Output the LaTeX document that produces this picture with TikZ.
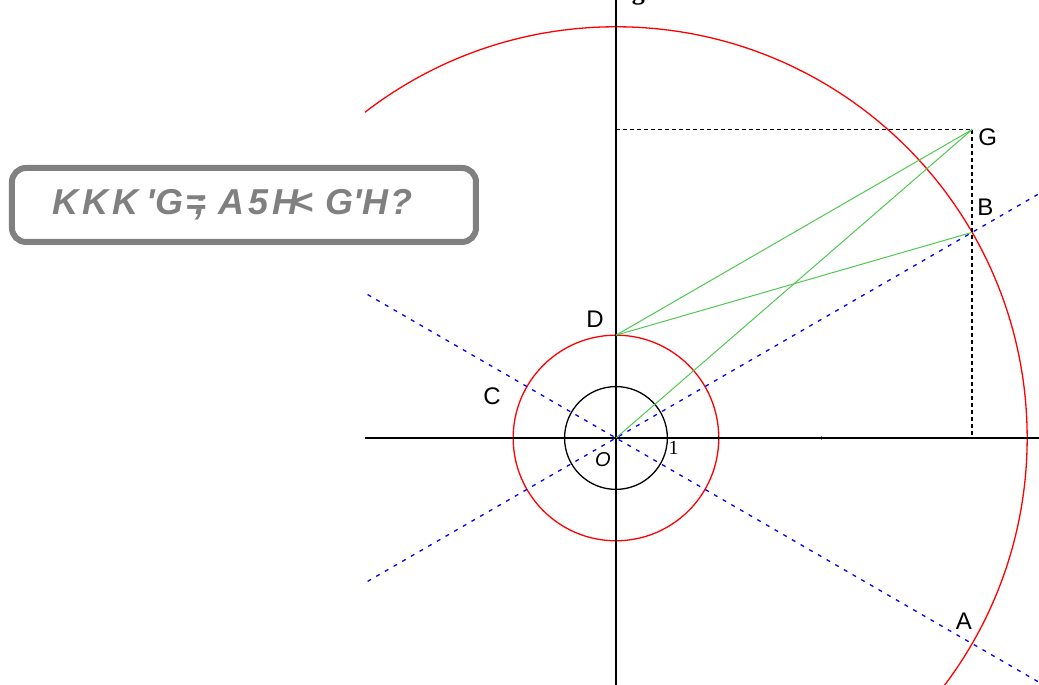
\documentclass[tikz,border=0pt]{standalone}
\usepackage{fontspec}
\setmainfont{Liberation Sans}
\newfontfamily\titlefont{Liberation Serif}
\newfontfamily\notefont[LetterSpace=6]{Liberation Sans}
\usetikzlibrary{positioning}
\definecolor{lightgreen}{RGB}{80,200,80}
\definecolor{notegray}{RGB}{128,128,128}

\begin{document}
\begin{tikzpicture}[x=51.4pt, y=51.4pt,
			axis/.style={line width=1.6pt, black},
			circ/.style={line width=1.3pt, red},
			ray/.style={line width=1.3pt, blue, dash pattern=on 4pt off 6pt},
			chord/.style={line width=1pt, lightgreen},
			guide/.style={line width=1.2pt, black, dash pattern=on 4pt off 3pt},
			lbl/.style={inner sep=0pt, font=\fontsize{24}{24}\selectfont}
			]
			\useasboundingbox (-11.984,-4.805) rectangle (8.230,8.521);
			
			% Punten
			\coordinate (O) at (0,0);
			\coordinate (U) at (1,0);
			\coordinate (A) at (-30:8);
			\coordinate (B) at (30:8);
			\coordinate (C) at (150:2);
			\coordinate (D) at (0,2);
			\coordinate (G) at (6.928,6);
			\coordinate (Gx) at (6.928,0);
			\coordinate (Gy) at (0,6);
			
			% Titel, bijna helemaal weg
			\node (title) [anchor=base, inner sep=0pt, font=\titlefont\bfseries\fontsize{26}{26}\selectfont] at (0.438,8.53) {g};
			
			\begin{scope}
			\clip (-4.883,-4.805) rectangle (8.230,8.521);
			
			% Cirkels
			\draw[circ] (O) circle (8);
			\draw[circ] (O) circle (2);
			\draw[line width=1.3pt] (O) circle (1);
			
			% Stippellijnen door O
			\draw[ray] (210:12) -- (30:12);
			\draw[ray] (150:12) -- (-30:12);
			
			% Assen
			\draw[axis] (-4.883,0) -- (8.230,0);
			\draw[axis] (0,-4.805) -- (0,8.521);
			\foreach \p in {(0,0),(2,0),(4,0)}
				\fill \p circle (1.6pt);
			
			% Hulplijnen naar G
			\draw[guide] (Gy) -- (G) -- (Gx);
			
			% Groene lijnen
			\draw[chord] (D) -- (G);
			\draw[chord] (D) -- (B);
			\draw[chord] (O) -- (G);
			\end{scope}
			
			% Labels
			\node (labG) [lbl, below right=-1pt and 6pt of G] {G};
			\node (labB) [lbl, above right=17pt and 5pt of B] {B};
			\node (labD) [lbl, above left=7pt and 12pt of D] {D};
			\node (labC) [lbl, below left=1pt and 26pt of C] {C};
			\node (labA) [lbl, above left=14pt and 0pt of A] {A};
			\node (labO) [inner sep=0pt, font=\itshape\fontsize{20}{20}\selectfont, below left=14pt and 5pt of O] {O};
			\node (lab1) [inner sep=0pt, font=\titlefont\fontsize{20}{20}\selectfont, below right=3pt and 1pt of U] {1};
			
			% Kader links
			\node (note) [draw=notegray, text=notegray, line width=6pt, rounded corners=14pt,
				text width=382pt, inner xsep=41pt, minimum height=74pt, align=left,
				font=\notefont\bfseries\itshape\fontsize{36}{36}\selectfont] at (-7.237,4.533)
				{K\kern4pt K\kern4pt K\kern8pt\textquotesingle G=\llap{;}\ A\kern4pt 5\kern4pt H\kern-6pt<\ G\textquotesingle H?};
			
		\end{tikzpicture}
\end{document}
